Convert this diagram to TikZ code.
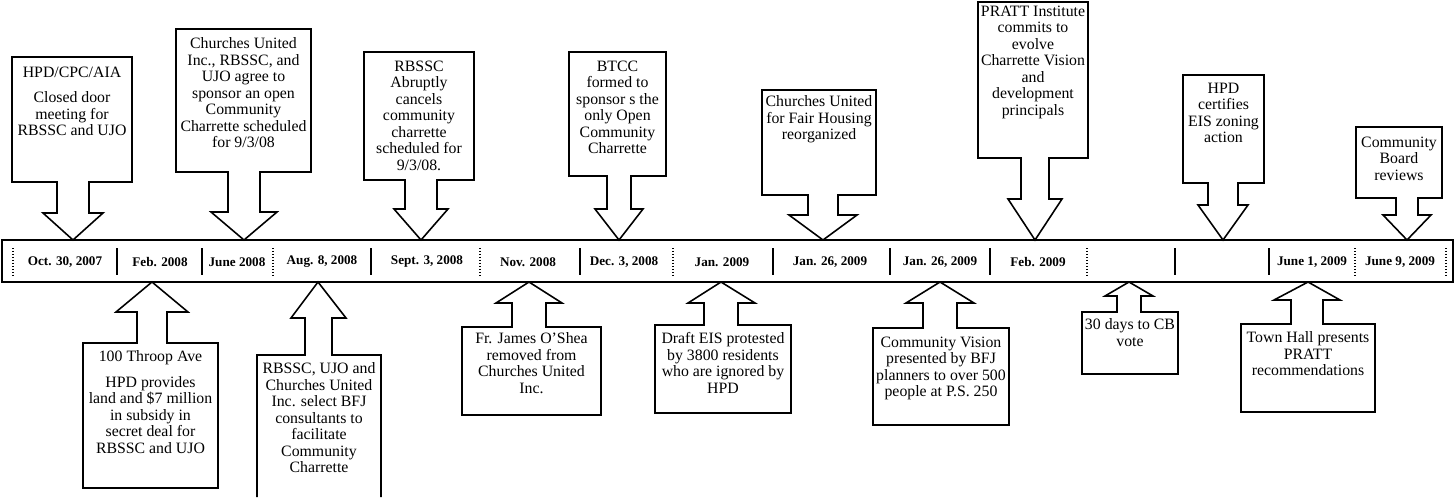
\documentclass[tikz,border=0pt]{standalone}
\usepackage{fontspec}
\setmainfont{Liberation Serif}
\begin{document}
\begin{tikzpicture}[x=0.02cm, y=-0.02cm, line width=0.9pt,
  note/.style={align=center, inner sep=0pt, anchor=north, font=\fontsize{9}{9.4}\selectfont},
  date/.style={inner sep=0pt, font=\fontsize{7.5}{9}\selectfont\bfseries},
  solidtick/.style={line width=0.8pt},
  dottick/.style={line width=0.7pt, densely dotted}]
\useasboundingbox (0,0) rectangle (1456,497);
% the time line
\draw (2,240) rectangle (1453,282);
\draw [dottick] (13,248) -- (13,275);
\draw [solidtick] (117,248) -- (117,275);
\draw [solidtick] (202,248) -- (202,275);
\draw [dottick] (273,248) -- (273,275);
\draw [solidtick] (371,248) -- (371,275);
\draw [dottick] (480,248) -- (480,275);
\draw [solidtick] (580,248) -- (580,275);
\draw [dottick] (673,248) -- (673,275);
\draw [solidtick] (773,248) -- (773,275);
\draw [solidtick] (890,248) -- (890,275);
\draw [solidtick] (990,248) -- (990,275);
\draw [dottick] (1087,248) -- (1087,275);
\draw [solidtick] (1175,248) -- (1175,275);
\draw [solidtick] (1269,248) -- (1269,275);
\draw [dottick] (1355,248) -- (1355,275);
\draw [dottick] (1446,248) -- (1446,275);
\node [date] (oct07) at (65,262) {Oct. 30, 2007};
\node [date] (feb08) at (160,262) {Feb. 2008};
\node [date] (jun08) at (237,262) {June 2008};
\node [date] (aug08) at (322,262) {Aug. 8, 2008};
\node [date] (sep08) at (427,262) {Sept. 3, 2008};
\node [date] (nov08) at (528,262) {Nov. 2008};
\node [date] (dec08) at (624,262) {Dec. 3, 2008};
\node [date] (jan09) at (722,262) {Jan. 2009};
\node [date] (jana09) at (830,262) {Jan. 26, 2009};
\node [date] (janb09) at (940,262) {Jan. 26, 2009};
\node [date] (feb09) at (1038,262) {Feb. 2009};
\node [date] (junea09) at (1312,262) {June 1, 2009};
\node [date] (juneb09) at (1400,262) {June 9, 2009};
% callouts above the line
\draw (12,182) -- (12,57) -- (132,57) -- (132,182) -- (89,182) -- (89,213) -- (103,213) -- (73,240) -- (43,213) -- (57,213) -- (57,182) -- cycle;
\node [note] (cpc) at (72,66) {HPD/CPC/AIA\\[5pt]Closed door\\meeting for\\RBSSC and UJO};
\draw (176,172) -- (176,29) -- (311,29) -- (311,172) -- (260,172) -- (260,212) -- (277,212) -- (244,240) -- (211,212) -- (228,212) -- (228,172) -- cycle;
\node [note] (agree) at (243.5,37) {Churches United\\Inc., RBSSC, and\\UJO agree to\\sponsor an open\\Community\\Charrette scheduled\\for 9/3/08};
\draw (364,180) -- (364,52) -- (474,52) -- (474,180) -- (437,180) -- (437,209) -- (448,209) -- (421,240) -- (394,209) -- (405,209) -- (405,180) -- cycle;
\node [note] (cancel) at (419,60) {RBSSC\\Abruptly\\cancels\\community\\charrette\\scheduled for\\9/3/08.};
\draw (569,176) -- (569,52) -- (666,52) -- (666,176) -- (631,176) -- (631,209) -- (643,209) -- (619,240) -- (595,209) -- (607,209) -- (607,176) -- cycle;
\node [note] (btcc) at (617.5,60) {BTCC\\formed to\\sponsor s the\\only Open\\Community\\Charrette};
\draw (762,195) -- (762,90) -- (876,90) -- (876,195) -- (838,195) -- (838,215) -- (857,215) -- (823,240) -- (789,215) -- (808,215) -- (808,195) -- cycle;
\node [note] (fair) at (819,95) {Churches United\\for Fair Housing\\reorganized};
\draw (978,158) -- (978,2) -- (1088,2) -- (1088,158) -- (1049,158) -- (1049,199) -- (1062,199) -- (1035,240) -- (1008,199) -- (1021,199) -- (1021,158) -- cycle;
\node [note] (pratt) at (1033,5) {PRATT Institute\\commits to\\evolve\\Charrette Vision\\and\\development\\principals};
\draw (1183,183) -- (1183,75) -- (1264,75) -- (1264,183) -- (1238,183) -- (1238,205) -- (1248,205) -- (1223,240) -- (1198,205) -- (1208,205) -- (1208,183) -- cycle;
\node [note] (cert) at (1223.5,82) {HPD\\certifies\\EIS zoning\\action};
\draw (1356,198) -- (1356,127) -- (1442,127) -- (1442,198) -- (1418,198) -- (1418,215) -- (1431,215) -- (1407,240) -- (1383,215) -- (1396,215) -- (1396,198) -- cycle;
\node [note] (board) at (1399,136) {Community\\Board\\reviews};
% callouts below the line
\draw (83,343) -- (83,488) -- (218,488) -- (218,343) -- (167,343) -- (167,312) -- (188,312) -- (152,282) -- (116,312) -- (137,312) -- (137,343) -- cycle;
\node [note] (throop) at (150.5,350) {100 Throop Ave\\[5pt]HPD provides\\land and \$7 million\\in subsidy in\\secret deal for\\RBSSC and UJO};
\draw (257,497) -- (257,355) -- (305,355) -- (305,318) -- (291,318) -- (318,282) -- (346,318) -- (332,318) -- (332,355) -- (381,355) -- (381,497);
\node [note] (select) at (319,362) {RBSSC, UJO and\\Churches United\\Inc. select BFJ\\consultants to\\facilitate\\Community\\Charrette};
\draw (462,327) -- (462,415) -- (601,415) -- (601,327) -- (546,327) -- (546,303) -- (562,303) -- (529,282) -- (496,303) -- (512,303) -- (512,327) -- cycle;
\node [note] (oshea) at (531.5,332) {Fr. James O'Shea\\removed from\\Churches United\\Inc.};
\draw (655,325) -- (655,413) -- (791,413) -- (791,325) -- (738,325) -- (738,303) -- (755,303) -- (721,282) -- (688,303) -- (704,303) -- (704,325) -- cycle;
\node [note] (draft) at (723,332) {Draft EIS protested\\by 3800 residents\\who are ignored by\\HPD};
\draw (873,328) -- (873,425) -- (1009,425) -- (1009,328) -- (957,328) -- (957,303) -- (974,303) -- (940,282) -- (906,303) -- (923,303) -- (923,328) -- cycle;
\node [note] (vision) at (941,336) {Community Vision\\presented by BFJ\\planners to over 500\\people at P.S. 250};
\draw (1082,312) -- (1082,374) -- (1178,374) -- (1178,312) -- (1141,312) -- (1141,296) -- (1153,296) -- (1129,282) -- (1105,296) -- (1117,296) -- (1117,312) -- cycle;
\node [note] (thirty) at (1130,318) {30 days to CB\\vote};
\draw (1241,324) -- (1241,412) -- (1375,412) -- (1375,324) -- (1323,324) -- (1323,300) -- (1340,300) -- (1308,282) -- (1274,300) -- (1291,300) -- (1291,324) -- cycle;
\node [note] (townhall) at (1308,331) {Town Hall presents\\PRATT\\recommendations};
\end{tikzpicture}
\end{document}
